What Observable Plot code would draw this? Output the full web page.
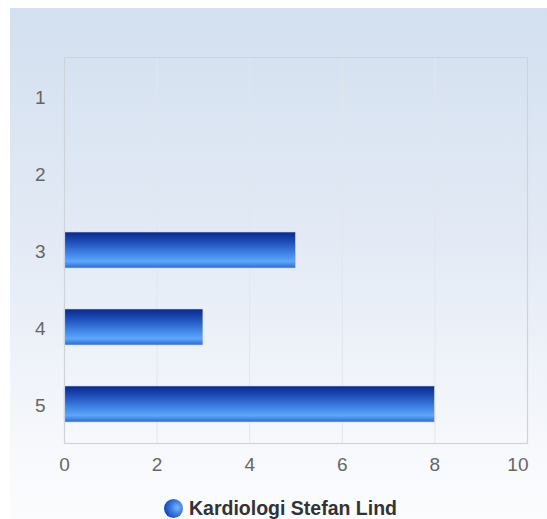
<!DOCTYPE html>
<html>
<head>
<meta charset="utf-8">
<script src="https://cdn.jsdelivr.net/npm/d3@7"></script>
<script src="https://cdn.jsdelivr.net/npm/@observablehq/plot@0.6"></script>
<style>
  html, body { margin: 0; padding: 0; background: #fff; width: 547px; height: 519px; overflow: hidden; }
  #bg { position: absolute; left: 10px; top: 8px; width: 537px; height: 511px;
        background: linear-gradient(to bottom, #d3e0f0 0%, #e3eaf5 45%, #f6f8fc 85%, #fbfcfe 100%); }
  #chart { position: absolute; left: 0; top: 0; }
  #legend { position: absolute; left: 164px; top: 498px; white-space: nowrap; line-height: 20px;
            font-family: "Liberation Sans", Arial, sans-serif; font-weight: bold; font-size: 19.5px; color: #333; }
  #legend .dot { display: inline-block; width: 19px; height: 19px; border-radius: 50%; vertical-align: -3px; margin-right: 6px;
            background: radial-gradient(circle at 70% 45%, #7ab6ff 0%, #3f80e4 35%, #1c4fc0 70%, #123a9e 100%); }
</style>
</head>
<body>
<div id="bg"></div>
<div id="chart"></div>
<div id="legend"><span class="dot"></span><span id="legendText"></span></div>
<script>
const categories = ["1", "2", "3", "4", "5"];
const values = [0, 0, 5, 3, 8];
const xTicks = [0, 2, 4, 6, 8, 10];
const seriesName = "Kardiologi Stefan Lind";

document.getElementById("legendText").textContent = seriesName;

const data = categories.map((c, i) => ({ category: c, value: values[i], series: seriesName }));
const font = "'Liberation Sans', Arial, sans-serif";

const chart = Plot.plot({
  width: 547,
  height: 480,
  marginLeft: 64,
  marginTop: 57,
  marginRight: 20,
  marginBottom: 37,
  style: { background: "transparent", fontFamily: font, fontSize: "19px", color: "#666" },
  x: { domain: [0, 10], label: null },
  y: { domain: categories, label: null, paddingInner: 0.53, paddingOuter: 0.265 },
  marks: [
    Plot.ruleX(xTicks.slice(1, -1), { stroke: "#e2e6ec", strokeWidth: 1 }),
    Plot.barX(data, { x: "value", y: "category", fill: "url(#barGrad)", stroke: "#c8d4f0", strokeWidth: 0.6 }),
    Plot.frame({ stroke: "#cfd3da", strokeWidth: 1.2 }),
    Plot.axisY({ tickSize: 0, tickPadding: 19, label: null, fill: "#666", dy: 1.5 }),
    Plot.axisX(xTicks.slice(0, -1), { tickSize: 0, tickPadding: 14, label: null, fill: "#666" }),
    Plot.axisX(xTicks.slice(-1), { tickSize: 0, tickPadding: 14, label: null, fill: "#666", textAnchor: "end", dx: 1 })
  ]
});

const svg = d3.select(chart);
const grad = svg.insert("defs", ":first-child").append("linearGradient")
  .attr("id", "barGrad").attr("x1", 0).attr("y1", 0).attr("x2", 0).attr("y2", 1);
[[0, "#08288a"], [0.3, "#2152bd"], [0.6, "#3f85e6"], [0.82, "#5ea6fb"], [1, "#2b6ad2"]]
  .forEach(([o, c]) => grad.append("stop").attr("offset", o).attr("stop-color", c));

document.getElementById("chart").appendChild(chart);
</script>
</body>
</html>
